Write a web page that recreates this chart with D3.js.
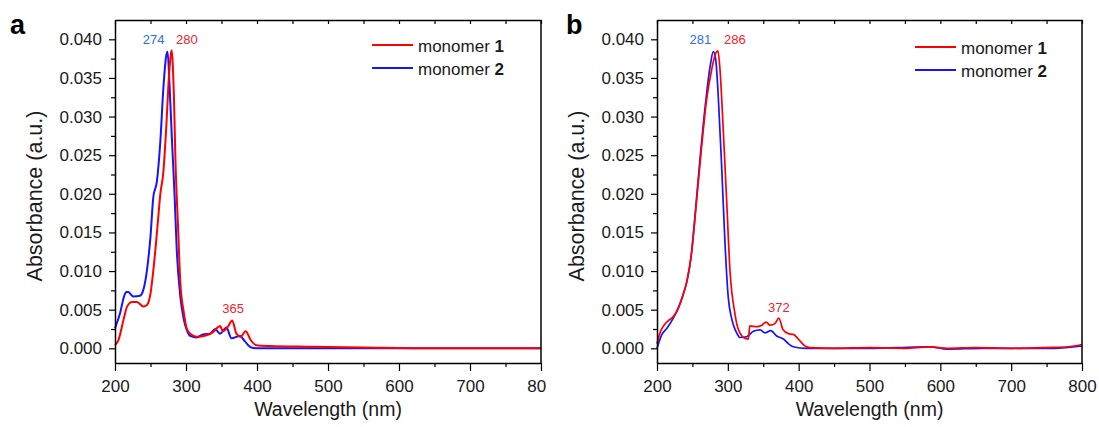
<!DOCTYPE html>
<html>
<head>
<meta charset="utf-8">
<script src="https://cdn.jsdelivr.net/npm/d3@7"></script>
<style>
  body { margin: 0; background: #fff; }
  text { font-family: "Liberation Sans", Arial, sans-serif; }
</style>
</head>
<body>
<div id="chart"></div>
<script>
// tick values
var xTicks = [200, 300, 400, 500, 600, 700, 800];
var xMinor = [250, 350, 450, 550, 650, 750];
var yTicks = [0, 0.005, 0.01, 0.015, 0.02, 0.025, 0.03, 0.035, 0.04];
var yMinor = [0.0025, 0.0075, 0.0125, 0.0175, 0.0225, 0.0275, 0.0325, 0.0375];
var seriesNumbers = ["1", "2"];

// panel a, [wavelength nm, absorbance]
var monomer1A = [[200,0.0004],[205,0.0011],[212,0.0037],[217,0.0054],[224,0.0060],[231,0.0060],
  [240,0.0054],[245,0.0056],[250,0.0071],[254,0.0101],[259,0.0149],[264,0.0201],[268,0.0227],
  [272,0.0283],[276,0.0352],[279,0.0383],[280,0.0386],[281.5,0.0365],[283,0.0326],[285,0.0248],
  [289,0.0153],[292,0.0085],[297,0.0046],[301,0.0026],[306,0.0019],[315,0.0015],[329,0.0017],
  [338,0.0021],[348,0.0029],[352,0.0022],[359,0.0028],[365,0.0036],[371,0.0019],[377,0.0015],
  [384,0.0022],[391,0.0011],[399,0.0004],[418,0.0003],[475,0.0002],[550,0.0001],[650,0.0000],
  [800,0.0000]];
var monomer2A = [[200,0.0026],[207,0.0045],[213,0.0068],[216,0.0073],[219,0.0073],[222,0.0070],
  [226,0.0067],[235,0.0068],[240,0.0076],[245,0.0101],[250,0.0145],[254,0.0196],[259,0.0216],
  [264,0.0270],[268,0.0335],[272,0.0378],[274,0.0384],[276.5,0.0347],[280,0.0274],[284,0.0196],
  [287,0.0127],[292,0.0067],[297,0.0037],[301,0.0024],[306,0.0016],[315,0.0014],[324,0.0018],
  [334,0.0019],[341,0.0025],[348,0.0019],[357,0.0027],[364,0.0013],[376,0.0016],[383,0.0009],
  [392,0.0001],[400,0.0000],[800,0.0000]];

// panel b
var monomer1B = [[200,0.0006],[205,0.0022],[210,0.0030],[216,0.0036],[222,0.0040],[228,0.0048],
  [235,0.0064],[242,0.0086],[249,0.0125],[256,0.0192],[263,0.0261],[270,0.0322],[277,0.0360],
  [283,0.0382],[286,0.0385],[289,0.0360],[293.5,0.0283],[298.5,0.0188],[303,0.0101],[310,0.0045],
  [313,0.0030],[317,0.0020],[322,0.0014],[329,0.0012],[331,0.0029],[341,0.0028],[348,0.0030],
  [354,0.0034],[359.5,0.0030],[366.5,0.0032],[372,0.0039],[378,0.0024],[385.5,0.0019],
  [392.5,0.0018],[399.5,0.0012],[409,0.0003],[416,0.0001],[450,0.0000],[500,0.0001],[550,0.0000],
  [585,0.0002],[610,0.0000],[650,0.0001],[700,0.0000],[750,0.0001],[780,0.0002],[800,0.0005]];
var monomer2B = [[200,0.0000],[207,0.0018],[214,0.0026],[223,0.0039],[230,0.0052],[237,0.0070],
  [243,0.0090],[248,0.0118],[253.5,0.0170],[260.5,0.0243],[268,0.0313],[275,0.0365],[279.5,0.0384],
  [283,0.0373],[286.5,0.0326],[291.5,0.0231],[296,0.0136],[300.5,0.0067],[305,0.0040],[308,0.0030],
  [313,0.0019],[317,0.0014],[326.5,0.0015],[336,0.0022],[345.5,0.0024],[352.5,0.0020],
  [360.5,0.0023],[369,0.0016],[378.5,0.0012],[385.5,0.0006],[392.5,0.0002],[410,0.0000],
  [500,0.0000],[540,0.0001],[585,0.0002],[610,-0.0001],[660,0.0000],[720,0.0000],[760,0.0000],
  [800,0.0003]];

// peak labels
var peaksA = [274, 280, 365];
var peaksB = [281, 286, 372];

var red = "#ff0000", blue = "#1414ff";
var redLabel = "#f5222d", blueLabel = "#2c6cf5";

var svg = d3.select("#chart").append("svg")
    .attr("width", 1099)
    .attr("height", 427);

var y = d3.scaleLinear().domain([-0.0019, 0.0425]).range([363, 20]);

var panels = [
  { letter: "a", left: 115, right: 541, clip: 546, lw: 2, data: [monomer1A, monomer2A], peaks: peaksA,
    peakDx: [-14, 15, 1], peakY: [44, 44, 313], legendX: 372, legendY: [45, 68], textY: [52, 75] },
  { letter: "b", left: 657, right: 1082, clip: 1099, lw: 1.7, data: [monomer1B, monomer2B], peaks: peaksB,
    peakDx: [-14, 17, 0], peakY: [44, 44, 312], legendX: 915, legendY: [47, 70], textY: [54, 77] }
];

panels.forEach(function (p, i) {
  var start = i === 0 ? 0 : 548;
  svg.append("clipPath").attr("id", "clip" + i)
    .append("rect").attr("x", start).attr("y", 0)
    .attr("width", p.clip - start).attr("height", 427);

  var g = svg.append("g").attr("clip-path", "url(#clip" + i + ")");

  var x = d3.scaleLinear().domain([200, 800]).range([p.left, p.right]);

  // curves first, frame on top
  var line = d3.line()
    .x(function (d) { return x(d[0]); })
    .y(function (d) { return y(d[1]); })
    .curve(d3.curveMonotoneX);

  g.selectAll(".curve")
    .data([p.data[1], p.data[0]])
    .enter()
    .append("path")
    .attr("d", line)
    .attr("fill", "none")
    .attr("stroke", function (d, k) { return k === 0 ? blue : red; })
    .attr("stroke-width", p.lw)
    .attr("stroke-linejoin", "round");

  // bottom axis
  var bottom = g.append("g")
    .attr("transform", "translate(0,363)")
    .call(d3.axisBottom(x).tickValues(xTicks).tickSize(8).tickSizeOuter(0).tickPadding(4));
  g.append("g")
    .attr("transform", "translate(0,363)")
    .call(d3.axisBottom(x).tickValues(xMinor).tickSize(4).tickFormat(""))
    .select(".domain").remove();

  // top axis, ticks inward
  g.append("g")
    .attr("transform", "translate(0,20)")
    .call(d3.axisTop(x).tickValues(xTicks.concat(xMinor)).tickSize(-4).tickSizeOuter(0).tickFormat(""));

  // left axis
  g.append("g")
    .attr("transform", "translate(" + p.left + ",0)")
    .call(d3.axisLeft(y).tickValues(yTicks).tickSize(6).tickSizeOuter(0).tickPadding(7)
      .tickFormat(d3.format(".3f")));
  g.append("g")
    .attr("transform", "translate(" + p.left + ",0)")
    .call(d3.axisLeft(y).tickValues(yMinor).tickSize(4).tickFormat(""))
    .select(".domain").remove();

  // right edge
  g.append("line")
    .attr("x1", p.right).attr("x2", p.right)
    .attr("y1", 20).attr("y2", 363)
    .attr("stroke", "#000").attr("stroke-width", 1.5);

  g.selectAll(".domain").attr("stroke-width", 1.5);
  g.selectAll(".tick line").attr("stroke-width", 1.2);
  g.selectAll(".tick text").style("font-size", "17px").attr("fill", "#1a1a1a")
    .style("font-family", "'Liberation Sans', Arial, sans-serif");
  bottom.selectAll(".tick text").attr("dy", "1em");

  // axis titles
  g.append("text")
    .attr("x", (p.left + p.right) / 2)
    .attr("y", 416)
    .attr("text-anchor", "middle")
    .style("font-size", "19.5px")
    .attr("fill", "#1a1a1a")
    .text("Wavelength (nm)");

  g.append("text")
    .attr("transform", "translate(" + (p.left - 73) + "," + 196 + ") rotate(-90)")
    .attr("text-anchor", "middle")
    .style("font-size", "21.5px")
    .attr("fill", "#1a1a1a")
    .text("Absorbance (a.u.)");

  // panel letter
  g.append("text")
    .attr("x", i === 0 ? 10 : 566)
    .attr("y", 34)
    .style("font-size", "27px")
    .style("font-weight", "bold")
    .text(p.letter);

  // peak labels
  g.selectAll(".peak")
    .data(p.peaks)
    .enter()
    .append("text")
    .attr("x", function (d, k) { return x(d) + p.peakDx[k]; })
    .attr("y", function (d, k) { return p.peakY[k]; })
    .attr("text-anchor", "middle")
    .style("font-size", "13px")
    .attr("fill", function (d, k) { return k === 0 ? blueLabel : redLabel; })
    .text(function (d) { return d; });

  // legend
  seriesNumbers.forEach(function (n, k) {
    g.append("line")
      .attr("x1", p.legendX).attr("x2", p.legendX + 41)
      .attr("y1", p.legendY[k]).attr("y2", p.legendY[k])
      .attr("stroke", k === 0 ? red : blue)
      .attr("stroke-width", 2);
    var t = g.append("text")
      .attr("x", p.legendX + 46)
      .attr("y", p.textY[k])
      .style("font-size", "17px")
      .attr("fill", "#1a1a1a");
    t.append("tspan").text("monomer ");
    t.append("tspan").style("font-weight", "bold").text(n);
  });
});
</script>
</body>
</html>
